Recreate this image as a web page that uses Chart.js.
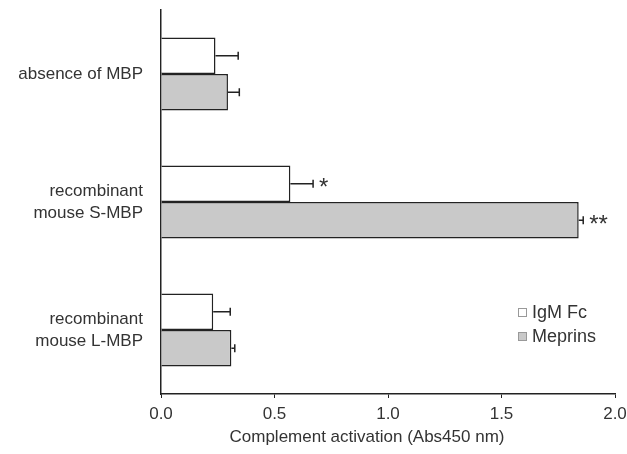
<!DOCTYPE html>
<html>
<head>
<meta charset="utf-8">
<script src="https://cdn.jsdelivr.net/npm/chart.js@4"></script>
<style>
  html, body { margin: 0; padding: 0; background: #fff; }
  #wrap { width: 627px; height: 454px; }
</style>
</head>
<body>
<div id="wrap"><canvas id="myChart"></canvas></div>
<script>
const categories = [
    'absence of MBP',
    ['recombinant', 'mouse S-MBP'],
    ['recombinant', 'mouse L-MBP'],
];
const seriesNames = ['IgM Fc', 'Meprins'];
const igmFc = [0.24, 0.57, 0.23];
const meprins = [0.295, 1.84, 0.31];
const igmFcErr = [0.10, 0.10, 0.075];
const meprinsErr = [0.05, 0.02, 0.015];
const igmFcSig = ['', '*', ''];
const meprinsSig = ['', '**', ''];
const xTicks = [0, 0.5, 1.0, 1.5, 2.0];
const xTitle = 'Complement activation (Abs450 nm)';

const fontFamily = '"Liberation Sans", Arial, sans-serif';

// error bars + asterisks
const errorBars = {
    id: 'errorBars',
    afterDatasetsDraw(chart) {
        const ctx = chart.ctx;
        const xs = chart.scales.x;
        chart.data.datasets.forEach((ds, i) => {
            const meta = chart.getDatasetMeta(i);
            meta.data.forEach((bar, j) => {
                const x0 = xs.getPixelForValue(ds.data[j]);
                const x1 = xs.getPixelForValue(ds.data[j] + ds.err[j]);
                const y = bar.y;
                ctx.save();
                ctx.strokeStyle = '#222';
                ctx.lineWidth = 1.5;
                ctx.beginPath();
                ctx.moveTo(x0, y);
                ctx.lineTo(x1, y);
                ctx.moveTo(x1, y - 4);
                ctx.lineTo(x1, y + 4);
                ctx.stroke();
                if (ds.sig[j]) {
                    ctx.fillStyle = '#333';
                    ctx.font = '24px ' + fontFamily;
                    ctx.textAlign = 'left';
                    ctx.textBaseline = 'middle';
                    ctx.fillText(ds.sig[j], x1 + 6, y + 5);
                }
                ctx.restore();
            });
        });
    }
};

// small legend inside plot + axis title (sits a bit left of centre in the original)
const boxLegend = {
    id: 'boxLegend',
    afterDraw(chart) {
        const ctx = chart.ctx;
        const x = 518, y0 = 312, gap = 24;
        chart.data.datasets.forEach((ds, i) => {
            const y = y0 + i * gap;
            ctx.save();
            ctx.fillStyle = ds.backgroundColor;
            ctx.strokeStyle = '#999';
            ctx.lineWidth = 1;
            ctx.fillRect(x, y - 4, 9, 9);
            ctx.strokeRect(x + 0.5, y - 3.5, 8, 8);
            ctx.fillStyle = '#333';
            ctx.font = '18px ' + fontFamily;
            ctx.textAlign = 'left';
            ctx.textBaseline = 'middle';
            ctx.fillText(ds.label, x + 14, y + 1);
            ctx.restore();
        });
        ctx.save();
        ctx.fillStyle = '#333';
        ctx.font = '17px ' + fontFamily;
        ctx.textAlign = 'center';
        ctx.textBaseline = 'middle';
        ctx.fillText(xTitle, 367, 437);
        ctx.restore();
    }
};

new Chart(document.getElementById('myChart'), {
    type: 'bar',
    data: {
        labels: categories,
        datasets: [
            {
                label: seriesNames[0],
                data: igmFc,
                err: igmFcErr,
                sig: igmFcSig,
                backgroundColor: '#ffffff',
                borderColor: '#222',
                borderWidth: 1.5,
            },
            {
                label: seriesNames[1],
                data: meprins,
                err: meprinsErr,
                sig: meprinsSig,
                backgroundColor: '#c9c9c9',
                borderColor: '#222',
                borderWidth: 1.5,
            }
        ]
    },
    options: {
        indexAxis: 'y',
        responsive: true,
        maintainAspectRatio: false,
        animation: false,
        layout: { padding: { top: 10, right: 12, left: 0, bottom: 0 } },
        datasets: {
            bar: { barPercentage: 1.0, categoryPercentage: 0.57 }
        },
        plugins: {
            legend: { display: false },
            tooltip: { enabled: false },
        },
        scales: {
            x: {
                min: 0,
                max: 2.0,
                afterBuildTicks(axis) {
                    axis.ticks = xTicks.map(v => ({ value: v }));
                },
                afterFit(axis) {
                    axis.height = 60;
                    axis.paddingLeft = 0;
                    axis.paddingRight = 0;
                },
                grid: {
                    display: true,
                    drawOnChartArea: false,
                    drawTicks: true,
                    tickLength: 4,
                    color: '#222',
                },
                border: { display: true, color: '#222', width: 1.5 },
                ticks: {
                    color: '#333',
                    padding: 6,
                    font: { family: fontFamily, size: 17 },
                    callback: (v) => Number(v).toFixed(1),
                    maxRotation: 0,
                },
            },
            y: {
                afterFit(axis) {
                    axis.width = 161;
                    axis.paddingTop = 0;
                    axis.paddingBottom = 0;
                },
                grid: { display: false, drawTicks: false },
                border: { display: true, color: '#222', width: 1.5 },
                ticks: {
                    color: '#333',
                    padding: 18,
                    font: { family: fontFamily, size: 17, lineHeight: 1.3 },
                },
            }
        }
    },
    plugins: [errorBars, boxLegend]
});
</script>
</body>
</html>
